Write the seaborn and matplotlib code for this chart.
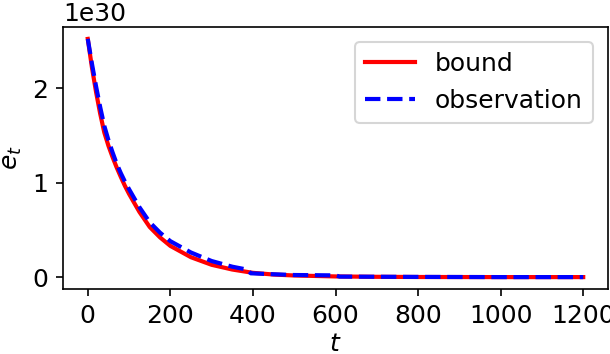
import numpy as np
import matplotlib
matplotlib.use('Agg')
import matplotlib.pyplot as plt
import seaborn as sns

# values (in units of 1e30)
bound_t = [0, 10, 20, 30, 40, 50, 60, 70, 80, 90, 100, 125, 150, 175, 200,
           250, 300, 350, 400, 450, 500, 600, 700, 800, 1000, 1200]
bound_e = [2.52, 2.22, 1.96, 1.73, 1.53, 1.39, 1.27, 1.16, 1.06, 0.965, 0.88,
           0.69, 0.53, 0.42, 0.33, 0.21, 0.13, 0.08, 0.045, 0.027, 0.017,
           0.007, 0.003, 0.001, 0.0, 0.0]

obs_t = [0, 10, 20, 30, 40, 50, 60, 70, 80, 90, 100, 125, 150, 175, 200, 250,
         300, 350, 385, 395, 450, 500, 600, 610, 800, 1000, 1200]
obs_e = [2.52, 2.26, 2.02, 1.80, 1.60, 1.45, 1.32, 1.20, 1.10, 1.01, 0.93,
         0.74, 0.58, 0.47, 0.38, 0.26, 0.17, 0.11, 0.08, 0.04, 0.03, 0.022,
         0.018, 0.005, 0.002, 0.0, 0.0]

scale = 1e30

plt.rcParams['font.size'] = 12
fig, ax = plt.subplots(figsize=(610 / 150, 354 / 150), dpi=150)

sns.lineplot(x=bound_t, y=np.array(bound_e) * scale, color='r', lw=2,
             label='bound', ax=ax)
sns.lineplot(x=obs_t, y=np.array(obs_e) * scale, color='b', lw=2,
             linestyle='--', label='observation', ax=ax)

ax.set_xlabel('$t$', labelpad=2)
ax.set_ylabel('$e_t$')
ax.set_xticks([0, 200, 400, 600, 800, 1000, 1200])
ax.legend(loc='upper right', borderaxespad=0.6)

plt.subplots_adjust(left=63 / 610, right=608 / 610, top=1 - 27 / 354,
                    bottom=1 - 289 / 354)
plt.savefig('out.png', dpi=150)
